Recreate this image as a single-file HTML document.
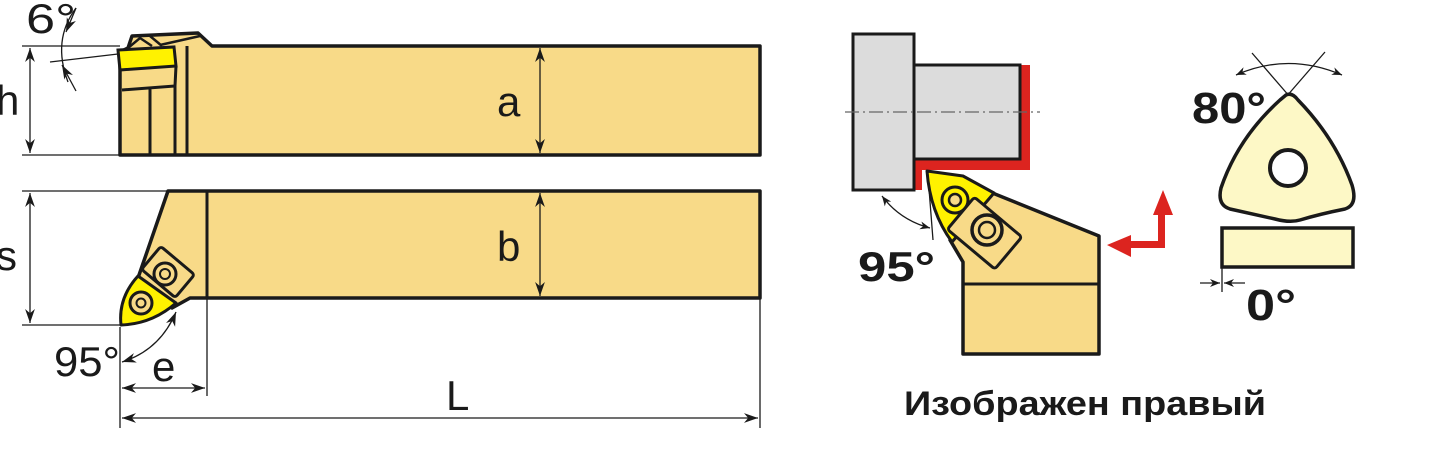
<!DOCTYPE html>
<html><head><meta charset="utf-8"><style>
html,body{margin:0;padding:0;background:#fff;}
svg{display:block;}
text{font-family:"Liberation Sans",sans-serif;fill:#1a1a1a;}
</style></head><body>
<svg width="1433" height="468" viewBox="0 0 1433 468" xmlns="http://www.w3.org/2000/svg">
<defs>
<marker id="ar" viewBox="0 0 10 10" refX="10" refY="5" markerWidth="10" markerHeight="10" markerUnits="userSpaceOnUse" orient="auto-start-reverse">
<path d="M0,1 L10,5 L0,9 L3,5 Z" fill="#1a1a1a"/></marker>
<marker id="ar2" viewBox="0 0 10 10" refX="10" refY="5" markerWidth="16" markerHeight="14" markerUnits="userSpaceOnUse" orient="auto-start-reverse">
<path d="M0,1.5 L10,5 L0,8.5 L3,5 Z" fill="#1a1a1a"/></marker>
</defs>
<rect width="1433" height="468" fill="#fff"/>
<g stroke="#1a1a1a" stroke-width="1.3" fill="none">
<line x1="22" y1="46" x2="120" y2="46"/>
<line x1="22" y1="155" x2="120" y2="155"/>
<line x1="22" y1="191" x2="168" y2="191"/>
<line x1="22" y1="325" x2="120" y2="325"/>
<line x1="120" y1="327" x2="120" y2="428"/>
<line x1="207" y1="298" x2="207" y2="396"/>
<line x1="760" y1="298" x2="760" y2="428"/>
<line x1="50" y1="62" x2="118" y2="54"/>
</g>
<!-- top view bar -->
<path d="M120,155 L120,52 L128,48 L132,36 L198,33 L212,46 L760,46 L760,155 Z" fill="#f8da88" stroke="#1a1a1a" stroke-width="3.5" stroke-linejoin="round"/>
<path d="M128,48 L140,38 L152,46 M150,36 L162,46 M160,45 L200,36" fill="none" stroke="#1a1a1a" stroke-width="2.5"/>
<path d="M118,50 L174,47 L176,66 L120,70 Z" fill="#fff200" stroke="#1a1a1a" stroke-width="3"/>
<path d="M122,90 L175,86 L176,66 M150,88 L150,155 M175,86 L175,155 M187,46 L187,155" fill="none" stroke="#1a1a1a" stroke-width="3"/>
<!-- bottom view bar -->
<path d="M168,191 L760,191 L760,298 L190,298 L172,308 L138,278 Z" fill="#f8da88" stroke="#1a1a1a" stroke-width="3.5" stroke-linejoin="round"/>
<line x1="207" y1="191" x2="207" y2="298" stroke="#1a1a1a" stroke-width="3"/>
<path d="M121,325 Q118,298 138,276 L176,303 Q152,324 121,325 Z" fill="#fff200" stroke="#1a1a1a" stroke-width="3" stroke-linejoin="round"/>
<circle cx="141" cy="303" r="11" fill="#f8da88" stroke="#1a1a1a" stroke-width="3"/>
<circle cx="141" cy="303" r="4.5" fill="#f8da88" stroke="#1a1a1a" stroke-width="2"/>
<g transform="translate(168,272) rotate(40)">
<rect x="-22" y="-15" width="44" height="30" rx="3" fill="#f8da88" stroke="#1a1a1a" stroke-width="3"/>
</g>
<circle cx="165" cy="274" r="11" fill="#f8da88" stroke="#1a1a1a" stroke-width="3"/>
<circle cx="165" cy="274" r="5" fill="#f8da88" stroke="#1a1a1a" stroke-width="2"/>
<!-- dimension lines -->
<g stroke="#1a1a1a" stroke-width="1.3" fill="none">
<line x1="30" y1="48" x2="30" y2="153" marker-start="url(#ar2)" marker-end="url(#ar2)"/>
<line x1="540" y1="48" x2="540" y2="153" marker-start="url(#ar2)" marker-end="url(#ar2)"/>
<line x1="30" y1="193" x2="30" y2="323" marker-start="url(#ar2)" marker-end="url(#ar2)"/>
<line x1="540" y1="193" x2="540" y2="296" marker-start="url(#ar2)" marker-end="url(#ar2)"/>
<line x1="122" y1="388" x2="205" y2="388" marker-start="url(#ar2)" marker-end="url(#ar2)"/>
<line x1="122" y1="418" x2="758" y2="418" marker-start="url(#ar2)" marker-end="url(#ar2)"/>
<path d="M122,362 Q160,350 176,312" marker-start="url(#ar2)" marker-end="url(#ar2)"/>
<path d="M76,8 Q52,40 68,82" />
<line x1="76" y1="8" x2="66" y2="32" marker-end="url(#ar2)"/>
<line x1="76" y1="91" x2="62" y2="65" marker-end="url(#ar2)"/>
</g>
<text x="26" y="33" font-size="42" textLength="50" lengthAdjust="spacingAndGlyphs">6°</text>
<text x="-4" y="115" font-size="42">h</text>
<text x="497" y="116" font-size="42">a</text>
<text x="-4" y="270" font-size="42">s</text>
<text x="497" y="261" font-size="42">b</text>
<text x="54" y="376" font-size="42" textLength="66" lengthAdjust="spacingAndGlyphs">95°</text>
<text x="152" y="381" font-size="42">e</text>
<text x="446" y="410" font-size="42">L</text>
<!-- right: workpiece -->
<path d="M1030,65 L1030,170 L922,170 L922,190 L913,190 L913,160 L1020,160 L1020,65 Z" fill="#dc241f"/>
<rect x="853" y="34" width="61" height="156" fill="#dcdcdc" stroke="#1a1a1a" stroke-width="3"/>
<rect x="914" y="65" width="106" height="94" fill="#dcdcdc" stroke="#1a1a1a" stroke-width="3"/>
<line x1="845" y1="112" x2="1040" y2="112" stroke="#666" stroke-width="1.2" stroke-dasharray="14,4,2,4"/>
<!-- tool -->
<path d="M985,190 L1099,236 L1099,354 L963,354 L963,262 L950,240 Z" fill="#f8da88" stroke="#1a1a1a" stroke-width="3.5" stroke-linejoin="round"/>
<line x1="963" y1="284" x2="1099" y2="284" stroke="#1a1a1a" stroke-width="3"/>
<path d="M927,171 L963,176 L994,193 L952,242 Q930,212 927,171 Z" fill="#fff200" stroke="#1a1a1a" stroke-width="3" stroke-linejoin="round"/>
<circle cx="955" cy="200" r="13" fill="#fff200" stroke="#1a1a1a" stroke-width="3"/>
<circle cx="955" cy="200" r="6" fill="#f8da88" stroke="#1a1a1a" stroke-width="2.5"/>
<g transform="translate(986,233) rotate(40)">
<rect x="-32" y="-20" width="62" height="42" rx="3" fill="#f8da88" stroke="#1a1a1a" stroke-width="3"/>
</g>
<circle cx="987" cy="230" r="15" fill="#f8da88" stroke="#1a1a1a" stroke-width="3.5"/>
<circle cx="987" cy="230" r="8" fill="#f8da88" stroke="#1a1a1a" stroke-width="2.5"/>
<g stroke="#1a1a1a" stroke-width="1.3" fill="none">
<line x1="928" y1="176" x2="933" y2="240"/>
<path d="M882,196 Q900,220 930,228" marker-start="url(#ar)" marker-end="url(#ar)"/>
</g>
<path d="M1158,215 L1153,215 L1163,190 L1173,215 L1165,215 L1165,248 L1131,248 L1131,257 L1107,245 L1131,235 L1131,241 L1158,241 Z" fill="#dc241f"/>
<text x="858" y="281" font-size="42" font-weight="bold" textLength="77" lengthAdjust="spacingAndGlyphs">95°</text>
<text x="904" y="415" font-size="34" font-weight="bold" textLength="362" lengthAdjust="spacingAndGlyphs">Изображен правый</text>
<!-- insert -->
<g stroke="#1a1a1a" stroke-width="1.3" fill="none">
<line x1="1252" y1="53" x2="1290" y2="97"/>
<line x1="1325" y1="52" x2="1286" y2="97"/>
<path d="M1236,75 Q1288,52 1342,75" marker-start="url(#ar)" marker-end="url(#ar)"/>
<line x1="1222" y1="268" x2="1222" y2="292"/>
<line x1="1200" y1="283" x2="1220" y2="283" marker-end="url(#ar)"/>
<line x1="1245" y1="283" x2="1224" y2="283" marker-end="url(#ar)"/>
</g>
<path d="M1286,95 Q1292,92 1298,100 Q1335,138 1352,185 Q1358,205 1345,209 Q1320,214 1300,220 Q1290,223 1275,219 L1230,209 Q1217,205 1221,188 Q1238,138 1280,100 Z" fill="#fdf8c6" stroke="#1a1a1a" stroke-width="3.5" stroke-linejoin="round"/>
<circle cx="1288" cy="168" r="18" fill="#fff" stroke="#1a1a1a" stroke-width="4"/>
<rect x="1222" y="228" width="131" height="39" fill="#fdf8c6" stroke="#1a1a1a" stroke-width="3.5"/>
<text x="1192" y="123" font-size="44" font-weight="bold" textLength="74" lengthAdjust="spacingAndGlyphs">80°</text>
<text x="1246" y="320" font-size="44" font-weight="bold" textLength="50" lengthAdjust="spacingAndGlyphs">0°</text>
</svg>
</body></html>
